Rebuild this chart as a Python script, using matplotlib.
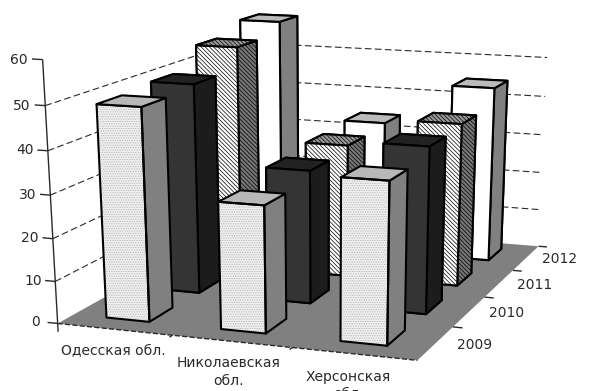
#!/usr/bin/env python
import numpy as np
import matplotlib
matplotlib.use('Agg')
import matplotlib.pyplot as plt
from mpl_toolkits.mplot3d import proj3d
from mpl_toolkits.mplot3d.art3d import Poly3DCollection, Line3DCollection

regions = ['Одесская обл.', 'Николаевская\nобл.', 'Херсонская\nобл.']
years = ['2009', '2010', '2011', '2012']
z_ticks = [0, 10, 20, 30, 40, 50, 60]

# one list per year, regions left to right
values_2009 = [49.5, 29.5, 37]
values_2010 = [50.5, 32, 39.5]
values_2011 = [55.5, 33, 40]
values_2012 = [58.5, 34, 44.5]
all_values = [values_2009, values_2010, values_2011, values_2012]

W, H = 589, 391

plt.rcParams['hatch.linewidth'] = 0.5

# camera: (region, year, value) -> pixel, solved from the corners of the box
world = np.array([[0, 0, 0], [3, 0, 0], [3, 4, 0], [0, 4, 0],
                  [0, 0, 60], [0, 0, 50], [3, 4, 50], [0, 4, 50]], float)
pixel = np.array([[57, 323], [418, 360], [538, 247], [240, 222],
                  [43, 60], [45, 106], [547, 57], [236, 42]], float)
rows = []
for (X, Y, Z), (u, v) in zip(world, pixel):
    rows.append([X, Y, Z, 1, 0, 0, 0, 0, -u*X, -u*Y, -u*Z, -u])
    rows.append([0, 0, 0, 0, X, Y, Z, 1, -v*X, -v*Y, -v*Z, -v])
P = np.linalg.svd(np.array(rows))[2][-1].reshape(3, 4)
P = P / P[2, 3]
# depth row only orders the faces: far, left and low go first
M = np.array([P[0], P[1], [-0.1, 1, -0.01, 0], P[2]])

fig = plt.figure(figsize=(W/100, H/100), dpi=100)
ax = fig.add_axes([0, 0, 1, 1], projection='3d')
ax.computed_zorder = False
ax.set_axis_off()
ax.get_proj = lambda: M
ax.apply_aspect = lambda position=None: None
ax.viewLim.intervalx = (0, W)
ax.viewLim.intervaly = (H, 0)

ink = '#2a2a2a'


def add_lines(segments, **kwargs):
    ax.add_collection3d(Line3DCollection(segments, colors=ink, **kwargs))


def add_label(x, y, z, s, **kwargs):
    u, v, _ = proj3d.proj_transform(x, y, z, M)
    ax.text2D(u, v, s, ha='center', va='center', color=ink, fontsize=10, **kwargs)


# floor
floor = Poly3DCollection([[(0, 0, 0), (3, 0, 0), (3, 4, 0), (0, 4, 0)]],
                         facecolor='#808080', edgecolor='none', zorder=1)
ax.add_collection3d(floor)
add_lines([[(0, 0, 0), (3, 0, 0)]], linewidths=1, linestyles='--', zorder=2)

# wall grid lines, the top level has none
grid = [[(0, 0, z), (0, 4, z), (3, 4, z)] for z in z_ticks[1:-1]]
add_lines(grid, linewidths=0.8, linestyles=(0, (6, 3)), zorder=2)

# value axis
add_lines([[(0, 0, -2), (0, 0, 60)]], linewidths=1, zorder=3)
add_lines([[(-0.09, 0, z), (0, 0, z)] for z in z_ticks], linewidths=1, zorder=3)
for z in z_ticks:
    add_label(-0.2, 0, z - 0.3, str(z))

# region and year ticks
add_lines([[(x, 0, 0), (x, -0.06, 0)] for x in [1, 2]], linewidths=1, zorder=3)
add_lines([[(3, y, 0), (3.08, y, 0)] for y in [1, 2, 3, 4]], linewidths=1, zorder=3)

region_x = [0.75, 1.78, 2.71]
region_y = [-0.57, -0.77, -0.78]
for x, y, name in zip(region_x, region_y, regions):
    add_label(x, y, 0, name, linespacing=1.3)
for i, year in enumerate(years):
    add_label(3.3, i + 0.55, 0, year)

# face order for bar3d: bottom, top, front, back, left, right
clear = (0, 0, 0, 0)
outline = ['none', 'black', 'black', 'none', 'none', 'black']
row_shift = [-0.03, -0.01, -0.02, 0]
bar_x = 0.32
bar_dx = 0.38
bar_y = 0.3
bar_dy = 0.47

order = 10
for i in [3, 2, 1, 0]:
    for j in range(3):
        x0 = j + bar_x + row_shift[i]
        y0 = i + bar_y
        z1 = all_values[i][j]
        if i == 0:
            # stipple on the front face only
            ax.bar3d(x0, y0, 0, bar_dx, bar_dy, z1, color='#efefef', shade=False,
                     edgecolor='#b5b5b5', linewidth=0, hatch='.......', zorder=order)
            order += 1
            colors = [clear, '#b8b8b8', clear, clear, clear, '#808080']
            ax.bar3d(x0, y0, 0, bar_dx, bar_dy, z1, color=colors, shade=False,
                     edgecolor=outline, linewidth=1.5, zorder=order)
        elif i == 1:
            colors = ['#222222', '#222222', '#343434', '#222222', '#222222', '#1c1c1c']
            ax.bar3d(x0, y0, 0, bar_dx, bar_dy, z1, color=colors, shade=False,
                     edgecolor='black', linewidth=1.5, zorder=order)
        elif i == 2:
            colors = ['#777777', '#999999', 'white', '#777777', '#777777', '#777777']
            ax.bar3d(x0, y0, 0, bar_dx, bar_dy, z1, color=colors, shade=False,
                     edgecolor='black', linewidth=1.5, hatch='\\\\\\\\\\\\\\\\', zorder=order)
        else:
            colors = ['#808080', '#bbbbbb', 'white', '#808080', '#808080', '#808080']
            ax.bar3d(x0, y0, 0, bar_dx, bar_dy, z1, color=colors, shade=False,
                     edgecolor='black', linewidth=1.5, zorder=order)
        order += 1

fig.savefig('out.png', dpi=100)
plt.close()
